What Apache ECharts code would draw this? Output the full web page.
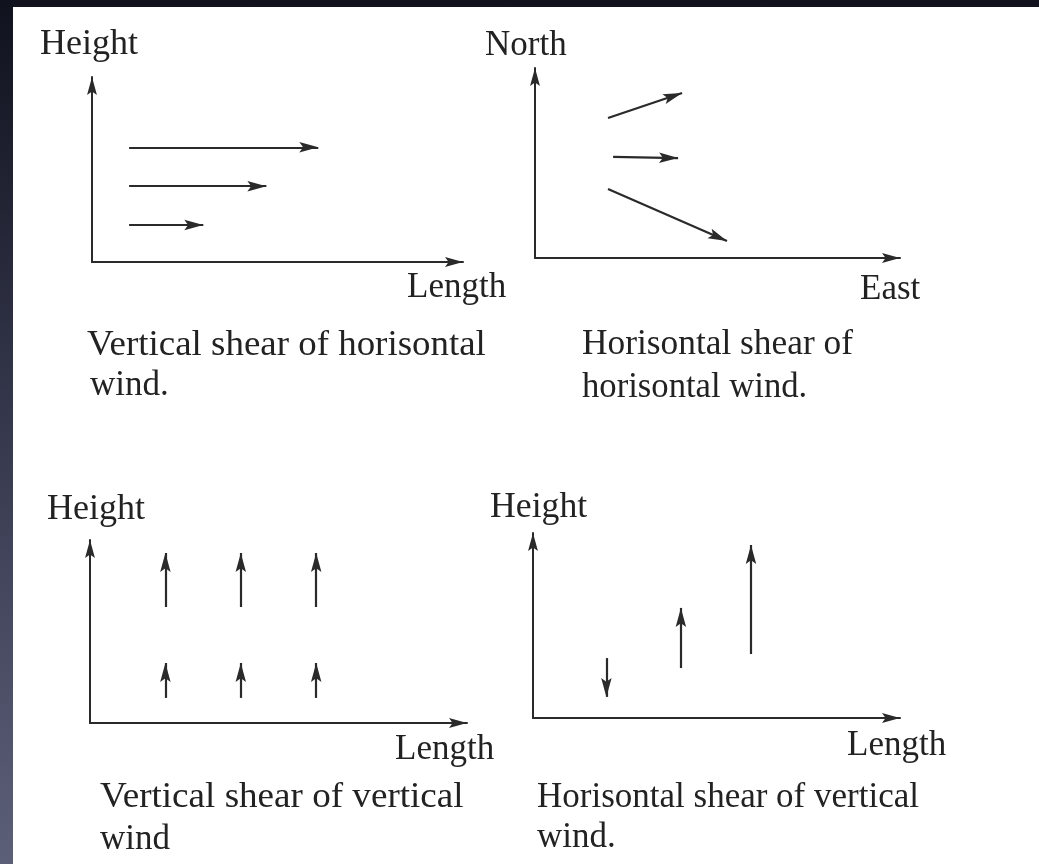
<!DOCTYPE html>
<html>
<head>
<meta charset="utf-8">
<title>Wind shear</title>
<script src="https://cdn.jsdelivr.net/npm/echarts@6/dist/echarts.min.js"></script>
<style>
  html, body {
    margin: 0;
    padding: 0;
    background: linear-gradient(to bottom, #10121e 0%, #3a3d52 55%, #5c5f78 100%);
  }
  #chart {
    width: 1039px;
    height: 864px;
  }
</style>
</head>
<body>
<div id="chart"></div>
<script>
  /** 左上：水平风的垂直切变 (高度, 起点, 终点) */
  const hwHeight = [62, 41, 20]
  const hwStart = [10, 10, 10]
  const hwEnd = [61, 47, 30]

  /** 右上：水平风的水平切变 (东, 北) */
  const hhFromX = [20, 21.4, 20]
  const hhFromY = [73.7, 53.2, 36.3]
  const hhToX = [40.3, 39.2, 52.6]
  const hhToY = [86.8, 52.6, 8.9]

  /** 左下：垂直风的垂直切变 */
  const vvX = [20, 40, 60]
  const vvLowFrom = [13.7, 13.7, 13.7]
  const vvLowTo = [32.8, 32.8, 32.8]
  const vvHighFrom = [63.4, 63.4, 63.4]
  const vvHighTo = [92.9, 92.9, 92.9]

  /** 右下：垂直风的水平切变 */
  const vhX = [20, 40.3, 59.4]
  const vhFrom = [32.4, 27.0, 34.6]
  const vhTo = [11.4, 59.5, 93.5]

  /** 文字 [内容, x, 基线, 横向缩放] */
  const labels = [
    ['Height', 40, 57, 1.03], ['Length', 407, 300, 1],
    ['Vertical shear of horisontal', 87, 358, 1.055], ['wind.', 90, 398, 1],
    ['North', 485, 58, 1], ['East', 860, 302, 1],
    ['Horisontal shear of', 582, 357, 1.01], ['horisontal wind.', 582, 400, 0.99],
    ['Height', 47, 522, 1.03], ['Length', 395, 762, 1],
    ['Vertical shear of vertical', 100, 810, 1.06], ['wind', 100, 852, 1],
    ['Height', 490, 520, 1.02], ['Length', 847, 758, 1],
    ['Horisontal shear of vertical', 537, 810, 1], ['wind.', 537, 850, 1]
  ]

  const ink = '#2a2a2a'
  const fontSize = 35
  // 箭头：尖端在包围盒中心，这样正好落在线的端点上
  const head = 'path://M-20 0M20 0M0 20L5.5 40L0 36L-5.5 40Z'

  const grids = [
    { left: 92, top: 77, width: 371, height: 185 },
    { left: 535, top: 68, width: 365, height: 190 },
    { left: 90, top: 540, width: 377, height: 183 },
    { left: 533, top: 533, width: 367, height: 185 }
  ]

  function axis(i) {
    return {
      type: 'value',
      gridIndex: i,
      min: 0,
      max: 100,
      axisLabel: { show: false },
      axisTick: { show: false },
      splitLine: { show: false },
      axisLine: {
        show: true,
        symbol: ['none', head],
        symbolSize: [36, 36],
        lineStyle: { color: ink, width: 2 }
      }
    }
  }

  function arrows(i, coords) {
    return {
      type: 'lines',
      coordinateSystem: 'cartesian2d',
      xAxisIndex: i,
      yAxisIndex: i,
      symbol: ['none', head],
      symbolSize: 38,
      lineStyle: { color: ink, width: 2.2, opacity: 1, curveness: 0 },
      silent: true,
      data: coords.map(c => ({ coords: c }))
    }
  }

  const p1 = hwHeight.map((h, k) => [[hwStart[k], h], [hwEnd[k], h]])
  const p2 = hhFromX.map((x, k) => [[x, hhFromY[k]], [hhToX[k], hhToY[k]]])
  const p3 = vvX.map((x, k) => [[x, vvLowFrom[k]], [x, vvLowTo[k]]])
    .concat(vvX.map((x, k) => [[x, vvHighFrom[k]], [x, vvHighTo[k]]]))
  const p4 = vhX.map((x, k) => [[x, vhFrom[k]], [x, vhTo[k]]])

  const chart = echarts.init(document.getElementById('chart'))
  chart.setOption({
    backgroundColor: 'transparent',
    animation: false,
    grid: grids,
    xAxis: [0, 1, 2, 3].map(axis),
    yAxis: [0, 1, 2, 3].map(axis),
    graphic: [
      {
        type: 'rect',
        z: -10,
        silent: true,
        shape: { x: 13, y: 7, width: 1026, height: 857 },
        style: { fill: '#ffffff' }
      }
    ].concat(labels.map(l => ({
      type: 'text',
      silent: true,
      x: l[1],
      y: l[2] - fontSize * 0.34,
      scaleX: l[3],
      style: {
        text: l[0],
        fill: '#222222',
        font: fontSize + 'px "Liberation Serif", serif',
        textAlign: 'left',
        textVerticalAlign: 'middle'
      }
    }))),
    series: [arrows(0, p1), arrows(1, p2), arrows(2, p3), arrows(3, p4)]
  })
</script>
</body>
</html>
